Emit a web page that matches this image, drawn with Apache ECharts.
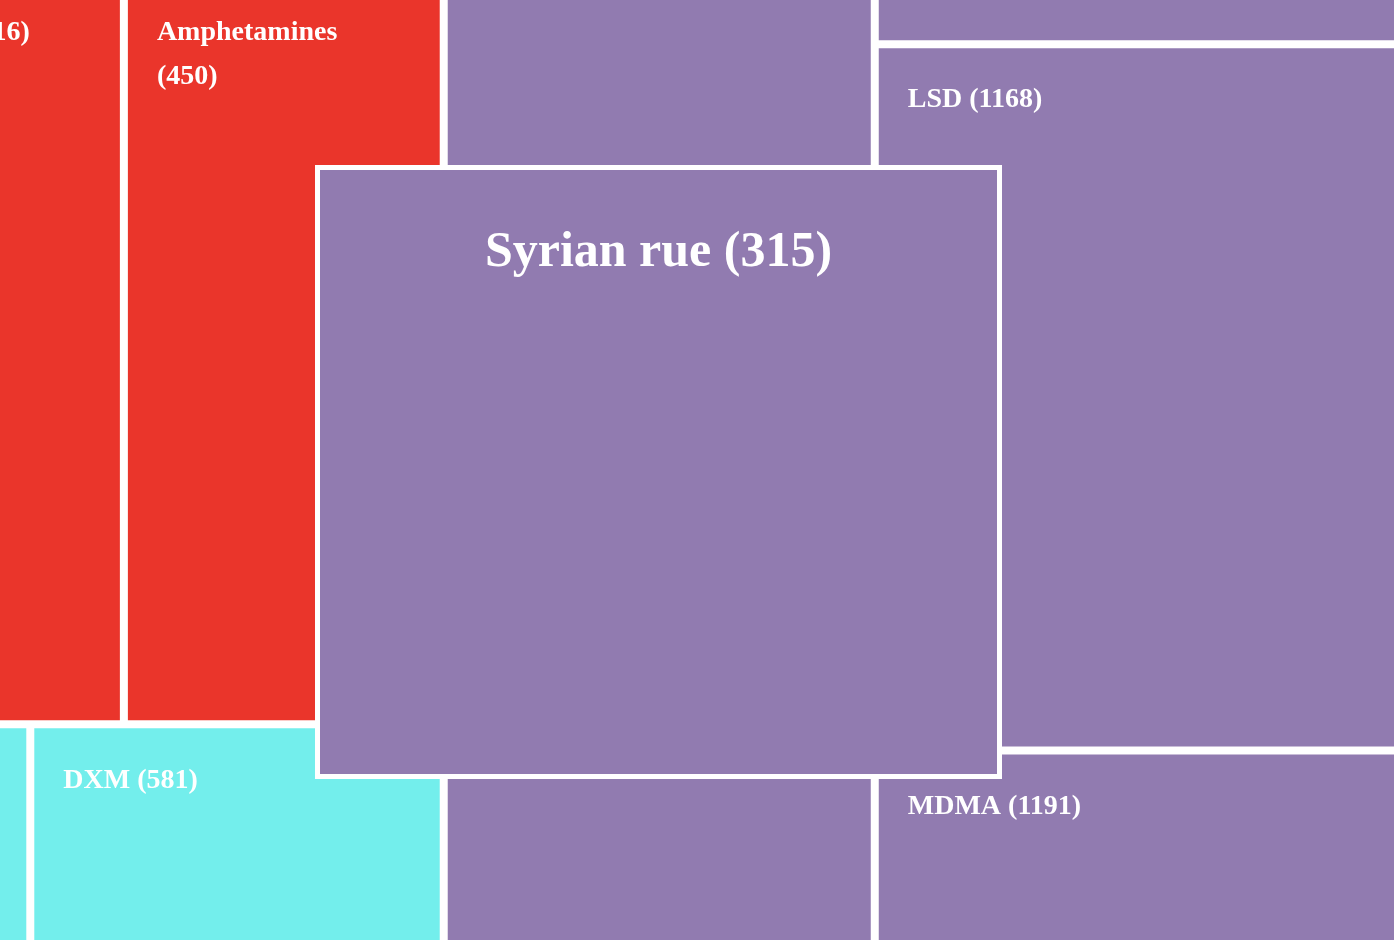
<!DOCTYPE html>
<html><head><meta charset="utf-8">
<script src="https://cdn.jsdelivr.net/npm/echarts@6/dist/echarts.min.js"></script>
<style>html,body{margin:0;padding:0;background:#fff;overflow:hidden}#chart{width:1394px;height:940px}</style>
</head><body><div id="chart"></div>
<script>
// ---- data ----
const categoryNames = ['Depressants', 'Stimulants', 'Dissociatives', 'Psychedelics'];
const depressantNames = ['Alcohol'];
const depressantCounts = [154];
const stimulantNames = ['Caffeine', 'Amphetamines'];
const stimulantCounts = [416, 450];
const dissociativeNames = ['Ketamine', 'DXM'];
const dissociativeCounts = [284, 581];
const psychedelicNames = ['Psilocybin mushrooms', 'DMT', 'LSD', 'MDMA'];
const psychedelicCounts = [1320, 331, 1168, 1191];
const psychedelicNesting = [0, [1, [2, 3]]];
const highlightNames = ['Syrian rue'];
const highlightCounts = [315];

// ---- style ----
const COLORS = ['#f2a541', '#ea352b', '#73eeec', '#917bb0'];
const LEAF_BORDER = 4;
const FONT = 'Liberation Serif';

function leaf(name, value) {
  return { name: name, value: value, itemStyle: { borderWidth: LEAF_BORDER } };
}
function nest(spec, names, counts, groupName) {
  if (Array.isArray(spec)) {
    return { name: groupName, children: spec.map(function (s, i) { return nest(s, names, counts, groupName + ' ' + (i + 1)); }) };
  }
  return leaf(names[spec], counts[spec]);
}
function flatGroup(names, counts) {
  return names.map(function (n, i) { return leaf(n, counts[i]); });
}

const groups = [
  flatGroup(depressantNames, depressantCounts),
  flatGroup(stimulantNames, stimulantCounts),
  flatGroup(dissociativeNames, dissociativeCounts),
  nest(psychedelicNesting, psychedelicNames, psychedelicCounts, 'Psychedelics').children
];
const treeData = categoryNames.map(function (c, i) {
  return { name: c, itemStyle: { color: COLORS[i] }, children: groups[i] };
});

const labelFmt = function (p) { return p.name + ' (' + p.value + ')'; };

const chart = echarts.init(document.getElementById('chart'), null, { renderer: 'canvas' });
chart.setOption({
  backgroundColor: '#fff',
  animation: false,
  tooltip: { show: false },
  series: [
    {
      type: 'treemap',
      left: -171.8, top: -156, width: 1924.95, height: 1626.94,
      roam: false, nodeClick: false, sort: false,
      squareRatio: 1.42,
      breadcrumb: { show: false },
      itemStyle: { borderWidth: 0, gapWidth: 0, borderColor: '#fff' },
      upperLabel: { show: false },
      label: {
        show: true, position: 'insideTopLeft', formatter: labelFmt,
        fontFamily: FONT, fontWeight: 'bold', fontSize: 28, lineHeight: 44,
        color: '#fff', padding: [30, 60, 0, 29], overflow: 'break', distance: 0
      },
      emphasis: { disabled: true },
      data: treeData
    },
    {
      type: 'treemap',
      z: 5,
      left: 315, top: 165, width: 687, height: 614,
      roam: false, nodeClick: false,
      breadcrumb: { show: false },
      itemStyle: { borderWidth: 0, gapWidth: 0, borderColor: '#fff' },
      label: {
        show: true, position: 'insideTop', formatter: labelFmt,
        fontFamily: FONT, fontWeight: 'bold', fontSize: 50, lineHeight: 60,
        color: '#fff', padding: [53, 20, 0, 20], overflow: 'break', distance: 0
      },
      emphasis: { disabled: true },
      data: highlightNames.map(function (n, i) {
        return { name: n, value: highlightCounts[i], itemStyle: { color: COLORS[3], borderWidth: 5 } };
      })
    }
  ]
});
</script></body></html>
